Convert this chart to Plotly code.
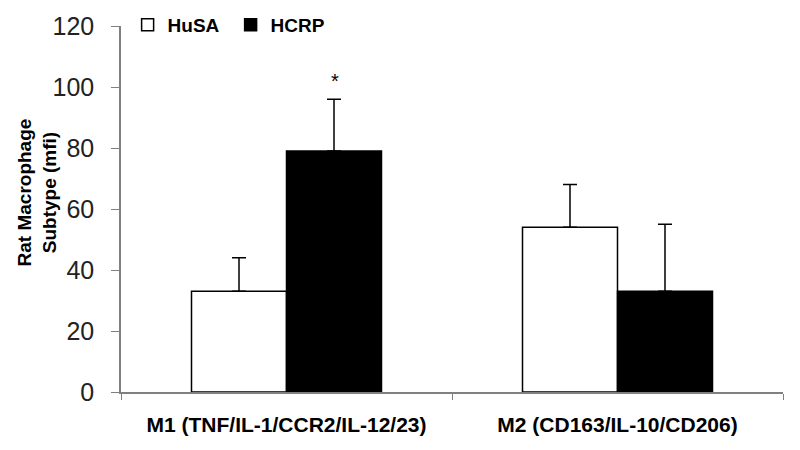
import plotly.graph_objects as go

categories = ["M1 (TNF/IL-1/CCR2/IL-12/23)", "M2 (CD163/IL-10/CD206)"]
husa = [33, 54]
husa_err = [11, 14]
hcrp = [79, 33]
hcrp_err = [17, 22]

font = "Liberation Sans, Arial, sans-serif"

fig = go.Figure()
fig.add_trace(go.Bar(
    x=categories, y=husa, name="HuSA",
    marker=dict(color="white", line=dict(color="black", width=1.5)),
    error_y=dict(type="data", array=husa_err, arrayminus=[0, 0], symmetric=False,
                 color="black", thickness=1.5, width=7),
))
fig.add_trace(go.Bar(
    x=categories, y=hcrp, name="HCRP",
    marker=dict(color="black", line=dict(color="black", width=1.5)),
    error_y=dict(type="data", array=hcrp_err, arrayminus=[0, 0], symmetric=False,
                 color="black", thickness=1.5, width=7),
))

# significance marker over the HCRP M1 bar
fig.add_annotation(x=categories[0], y=hcrp[0] + hcrp_err[0], text="*",
                   xshift=48, yshift=18, showarrow=False,
                   font=dict(family=font, size=20, color="black"))

# y title placed by hand (sits a bit above the axis middle)
fig.add_annotation(xref="paper", yref="paper", x=-0.127, y=0.545,
                   text="Rat Macrophage<br>Subtype (mfi)", textangle=-90,
                   showarrow=False, xanchor="center", yanchor="middle",
                   font=dict(family=font, size=19, color="black", weight="bold"))

fig.update_layout(
    width=800, height=450,
    margin=dict(l=121, r=17, t=26, b=58, autoexpand=False),
    plot_bgcolor="white", paper_bgcolor="white",
    barmode="group", bargap=0.426, bargroupgap=0,
    showlegend=True,
    legend=dict(orientation="h", x=0.01, xanchor="left",
                y=1.055, yanchor="top", entrywidth=58,
                font=dict(family=font, size=19, color="black", weight="bold"),
                bgcolor="rgba(0,0,0,0)"),
    font=dict(family=font),
)
fig.update_xaxes(
    showline=True, linecolor="#808080", linewidth=1.5,
    ticks="outside", tickson="boundaries", ticklen=6, tickcolor="#808080",
    tickfont=dict(family=font, size=21, color="black", weight="bold"),
    ticklabelstandoff=13,
    showgrid=False, automargin=False,
)
fig.update_yaxes(
    range=[0, 120], dtick=20,
    showline=True, linecolor="#808080", linewidth=1.5,
    ticks="outside", ticklen=8, tickcolor="#808080",
    tickfont=dict(family=font, size=25, color="#222222"),
    ticklabelstandoff=12,
    showgrid=False, zeroline=False, automargin=False,
)

# page body margin would shift the figure by 8px
fig.write_html("out.html", config={"displayModeBar": False},
               post_script="document.body.style.margin='0';")
